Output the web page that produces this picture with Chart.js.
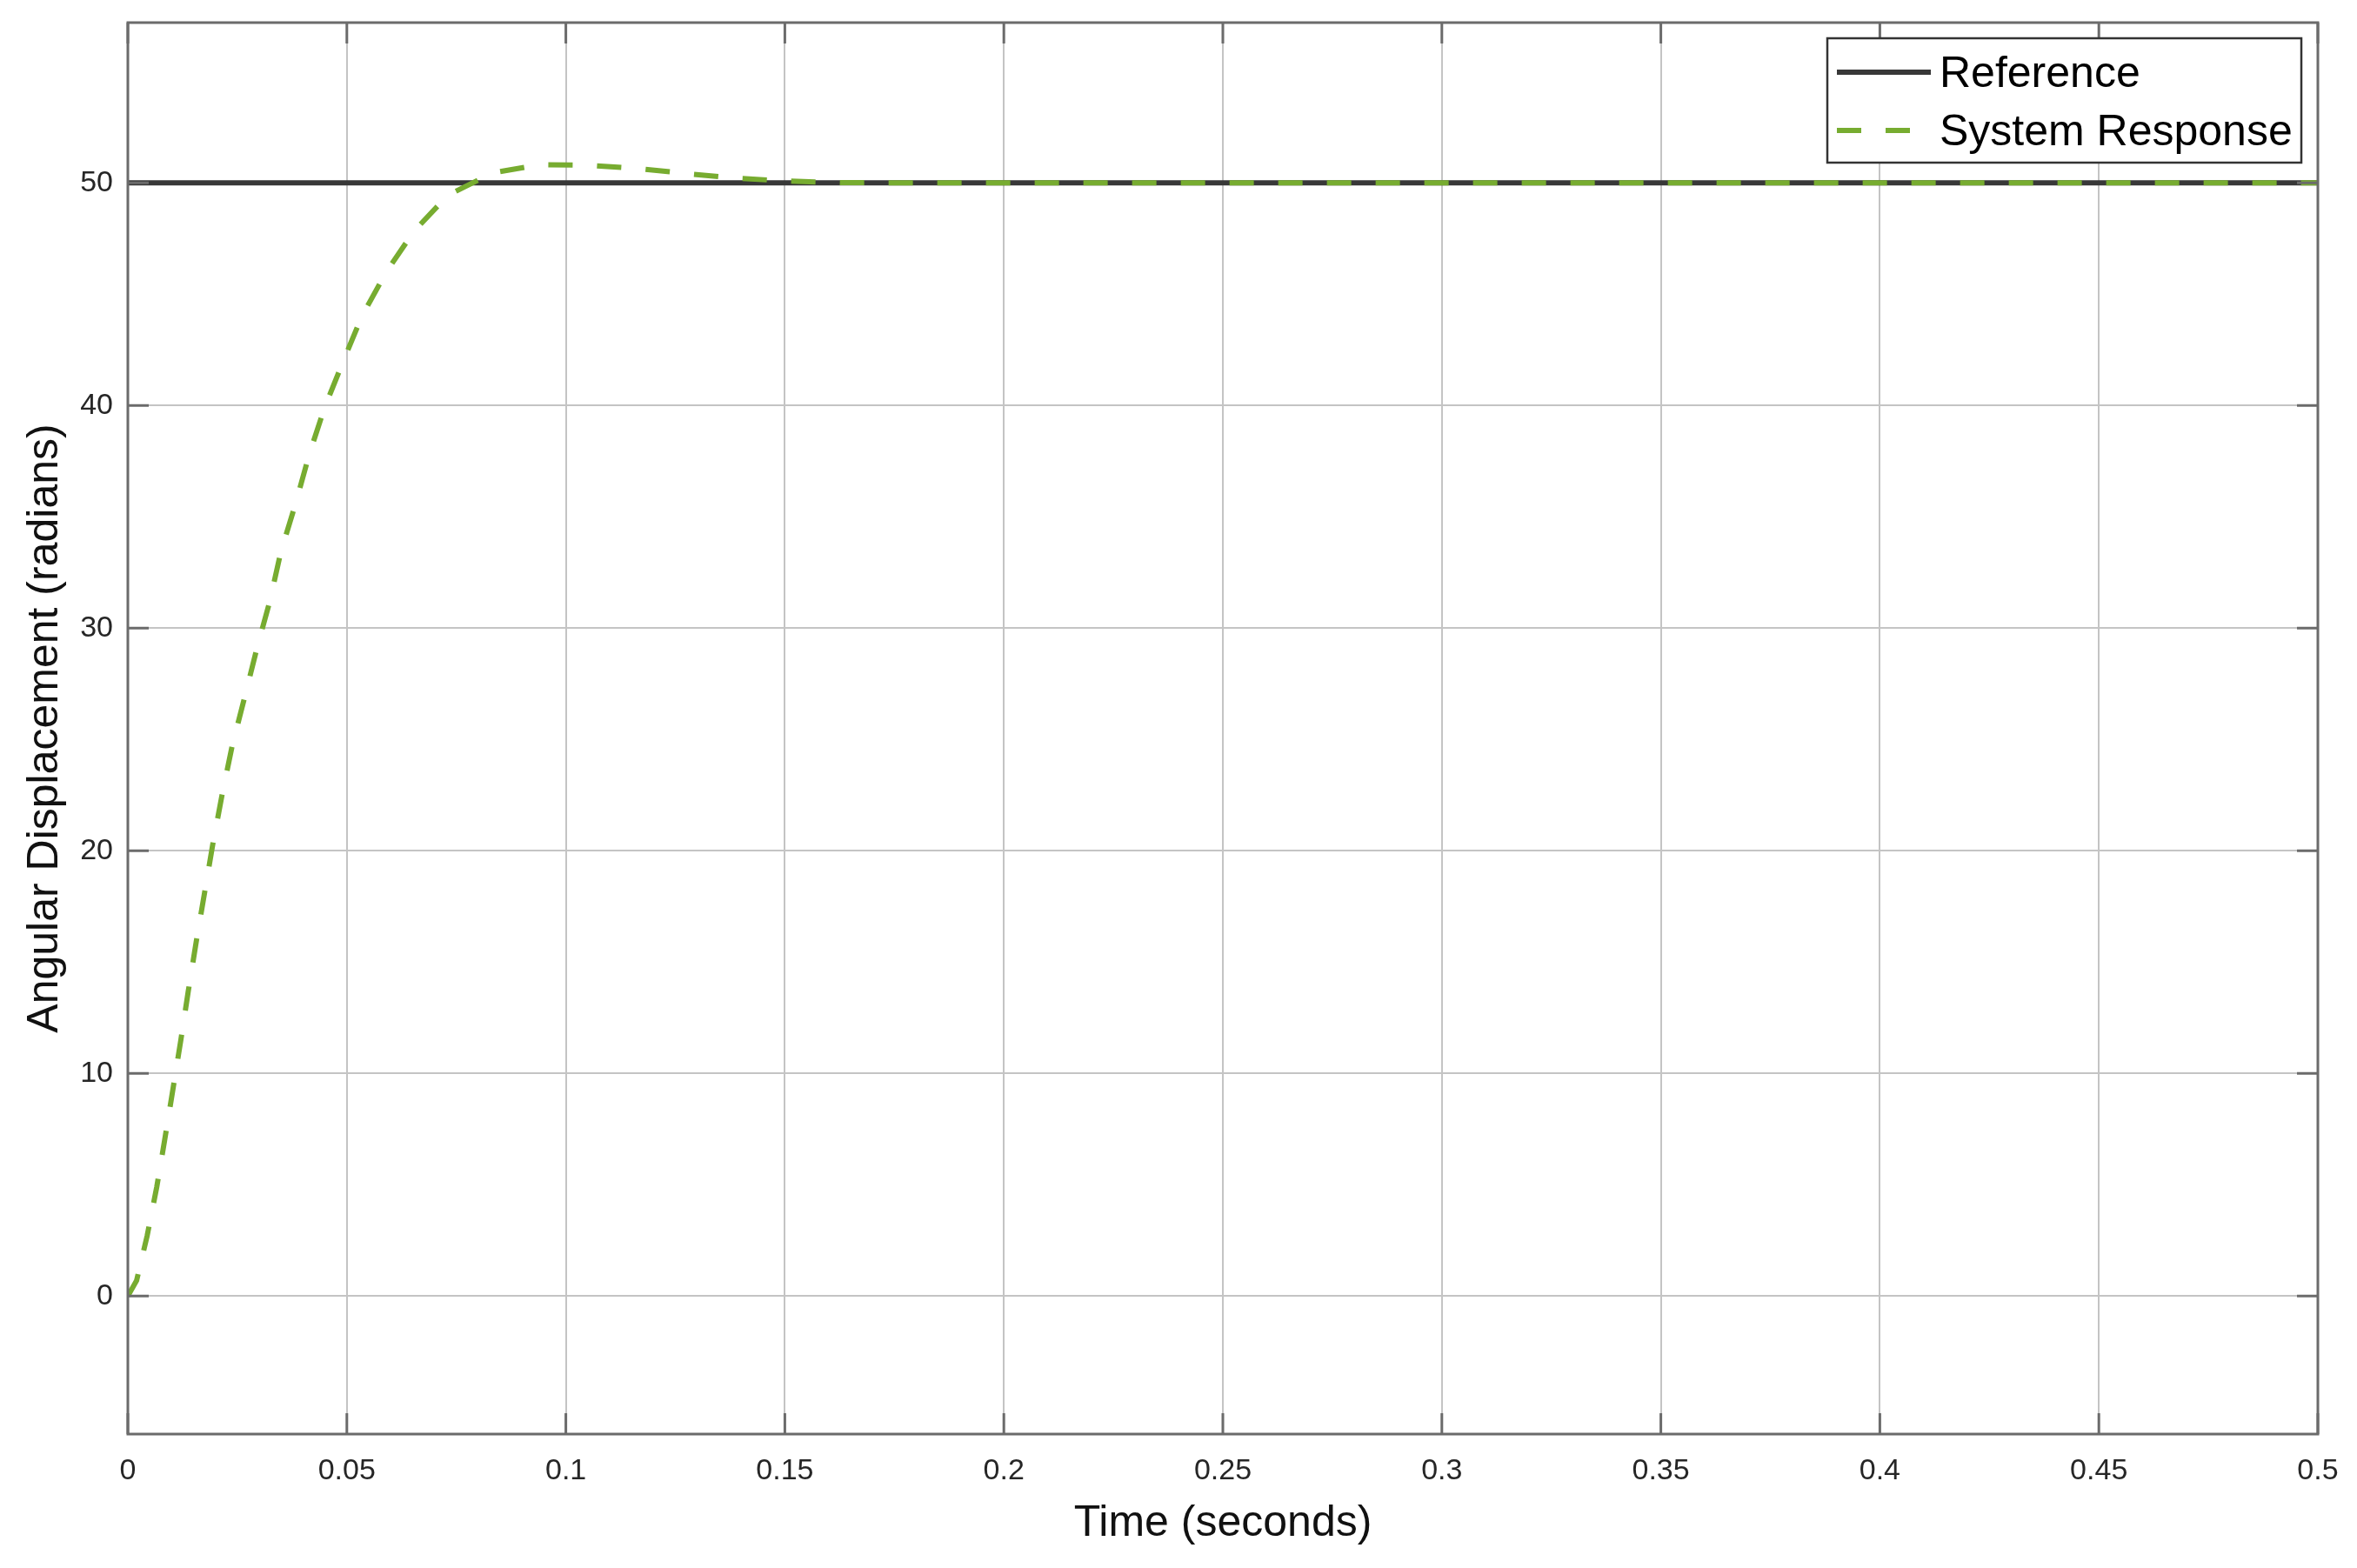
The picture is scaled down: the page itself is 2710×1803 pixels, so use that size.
<!DOCTYPE html>
<html>
<head>
<meta charset="utf-8">
<script src="https://cdn.jsdelivr.net/npm/chart.js@4.4.1/dist/chart.umd.min.js"></script>
<style>
  html, body { margin: 0; padding: 0; background: #fff; }
</style>
</head>
<body>
<canvas id="responseChart" width="2710" height="1803"></canvas>
<script>
// --- Data ---
const seriesNames = ['Reference', 'System Response'];

const refTime = [0, 0.5];
const refValue = [50, 50];

const respTime = [0, 0.002, 0.0044, 0.0066, 0.0084, 0.0103, 0.0121, 0.0138, 0.0156, 0.0175,
                  0.0194, 0.0215, 0.0238, 0.0268, 0.0296, 0.0324, 0.0349, 0.0383, 0.0414, 0.0449,
                  0.0492, 0.0534, 0.059, 0.0654, 0.0731, 0.0833, 0.0942, 0.1055, 0.1173, 0.1285,
                  0.1397, 0.151, 0.1626, 0.2, 0.3, 0.4, 0.5];
const respValue = [0, 0.7, 2.7, 4.9, 7.0, 9.3, 11.5, 13.7, 15.9, 18.1,
                   20.3, 22.5, 24.7, 27.0, 29.2, 31.2, 33.4, 35.6, 37.8, 39.9,
                   42.0, 44.0, 46.0, 47.85, 49.45, 50.45, 50.82, 50.79, 50.63, 50.40,
                   50.2, 50.08, 50.01, 50, 50, 50, 50];

const xTicks = [0, 0.05, 0.1, 0.15, 0.2, 0.25, 0.3, 0.35, 0.4, 0.45, 0.5];
const yTicks = [0, 10, 20, 30, 40, 50];

const toPoints = (xs, ys) => xs.map((x, i) => ({ x: x, y: ys[i] }));

// --- Axes box, inward tick marks and the framed legend (MATLAB look) ---
const boxAndLegend = {
    id: 'boxAndLegend',
    afterDatasetsDraw(chart) {
        const { ctx, chartArea: a, scales } = chart;
        ctx.save();

        ctx.strokeStyle = '#6b6b6b';
        ctx.lineWidth = 3;
        ctx.strokeRect(a.left, a.top, a.right - a.left, a.bottom - a.top);

        const tickLen = 24;
        ctx.beginPath();
        scales.x.ticks.forEach(t => {
            const px = scales.x.getPixelForValue(t.value);
            ctx.moveTo(px, a.bottom); ctx.lineTo(px, a.bottom - tickLen);
            ctx.moveTo(px, a.top); ctx.lineTo(px, a.top + tickLen);
        });
        scales.y.ticks.forEach(t => {
            const py = scales.y.getPixelForValue(t.value);
            ctx.moveTo(a.left, py); ctx.lineTo(a.left + tickLen, py);
            ctx.moveTo(a.right, py); ctx.lineTo(a.right - tickLen, py);
        });
        ctx.stroke();

        // legend
        const w = 545, h = 143;
        const lx = a.right - 19 - w, ly = a.top + 18;
        ctx.fillStyle = '#fff';
        ctx.fillRect(lx, ly, w, h);
        ctx.strokeStyle = '#333';
        ctx.lineWidth = 2.5;
        ctx.strokeRect(lx, ly, w, h);

        chart.data.datasets.forEach((ds, i) => {
            const y = ly + 39 + i * 67;
            ctx.strokeStyle = ds.borderColor;
            ctx.lineWidth = ds.borderWidth;
            ctx.setLineDash(ds.borderDash || []);
            ctx.beginPath();
            ctx.moveTo(lx + 11, y);
            ctx.lineTo(lx + 119, y);
            ctx.stroke();
            ctx.setLineDash([]);
            ctx.fillStyle = '#000';
            ctx.font = '50px "Liberation Sans", Arial, sans-serif';
            ctx.textBaseline = 'middle';
            ctx.textAlign = 'left';
            ctx.fillText(ds.label, lx + 129, y + 3);
        });

        ctx.restore();
    }
};

const whiteBg = {
    id: 'whiteBg',
    beforeDraw(chart) {
        const ctx = chart.ctx;
        ctx.save();
        ctx.fillStyle = '#fff';
        ctx.fillRect(0, 0, chart.width, chart.height);
        ctx.restore();
    }
};

// keep the plot box at fixed offsets: no extra room for overhanging labels
const noPadding = s => { s.paddingTop = 0; s.paddingBottom = 0; s.paddingLeft = 0; s.paddingRight = 0; };

const tickFont = { family: '"Liberation Sans", Arial, sans-serif', size: 34 };
const titleFont = { family: '"Liberation Sans", Arial, sans-serif', size: 50 };

const ctx = document.getElementById('responseChart').getContext('2d');
new Chart(ctx, {
    type: 'line',
    data: {
        datasets: [{
            label: seriesNames[0],
            data: toPoints(refTime, refValue),
            borderColor: '#383838',
            borderWidth: 6,
            pointRadius: 0,
            tension: 0,
            order: 1
        }, {
            label: seriesNames[1],
            data: toPoints(respTime, respValue),
            borderColor: '#77AC30',
            borderWidth: 6,
            borderDash: [28, 28],
            pointRadius: 0,
            tension: 0,
            order: 0
        }]
    },
    options: {
        responsive: false,
        animation: false,
        events: [],
        layout: { padding: { top: 26, right: 45, left: 0, bottom: 0 } },
        plugins: {
            legend: { display: false },
            tooltip: { enabled: false }
        },
        scales: {
            x: {
                type: 'linear',
                min: 0,
                max: 0.5,
                afterBuildTicks: s => { s.ticks = xTicks.map(v => ({ value: v })); },
                afterFit: s => { s.height = 154; noPadding(s); },
                ticks: {
                    font: tickFont,
                    color: '#262626',
                    padding: 22,
                    maxRotation: 0,
                    callback: v => String(+Number(v).toFixed(2))
                },
                grid: { color: '#c4c4c4', lineWidth: 2, drawTicks: false },
                border: { display: false },
                title: {
                    display: true,
                    text: 'Time (seconds)',
                    font: titleFont,
                    color: '#111',
                    padding: { top: 0, bottom: 21 }
                }
            },
            y: {
                type: 'linear',
                min: -6.2,
                max: 57.2,
                afterBuildTicks: s => { s.ticks = yTicks.map(v => ({ value: v })); },
                afterFit: s => { s.width = 147; noPadding(s); },
                ticks: {
                    font: tickFont,
                    color: '#262626',
                    padding: 17
                },
                grid: { color: '#c4c4c4', lineWidth: 2, drawTicks: false },
                border: { display: false },
                title: {
                    display: true,
                    text: 'Angular Displacement (radians)',
                    font: titleFont,
                    color: '#111',
                    padding: { top: 22, bottom: 0 }
                }
            }
        }
    },
    plugins: [whiteBg, boxAndLegend]
});
</script>
</body>
</html>
